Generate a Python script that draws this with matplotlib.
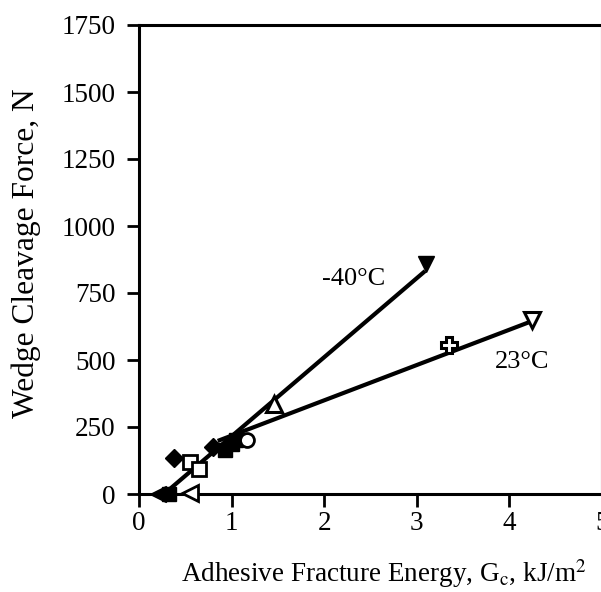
import matplotlib
matplotlib.use("Agg")
import matplotlib.pyplot as plt

plt.rcParams['font.family'] = ['Liberation Serif', 'DejaVu Serif']
plt.rcParams['mathtext.fontset'] = 'stix'

# measured points (Gc in kJ/m^2, wedge force in N), grouped by marker
filled_diamond_x = [0.38, 0.80]
filled_diamond_y = [135, 175]
filled_square_x = [0.32, 0.93, 1.00, 1.05]
filled_square_y = [0, 165, 185, 200]
filled_left_x = [0.20]
filled_left_y = [0]
open_left_x = [0.55]
open_left_y = [2]
open_square_x = [0.55, 0.65]
open_square_y = [120, 92]
open_circle_x = [1.17]
open_circle_y = [200]
open_up_x = [1.46]
open_up_y = [335]
filled_down_x = [3.10]
filled_down_y = [858]
open_down_x = [4.24]
open_down_y = [648]
plus_x = [3.35]
plus_y = [555]

# trend lines
line_m40_x = [0.27, 3.09]
line_m40_y = [0, 832]
line_23_x = [0.85, 4.22]
line_23_y = [198, 642]

x_ticks = [0, 1, 2, 3, 4, 5]
y_ticks = [0, 250, 500, 750, 1000, 1250, 1500, 1750]

fig = plt.figure(figsize=(6.01, 5.92), dpi=100)
ax = fig.add_axes([139 / 601, 1 - 494 / 592, 463 / 601, 469 / 592])

ax.plot(line_m40_x, line_m40_y, color='black', lw=3, solid_capstyle='butt', zorder=2)
ax.plot(line_23_x, line_23_y, color='black', lw=3, solid_capstyle='butt', zorder=2)

ms = 10
mk = dict(linestyle='none', color='black', markeredgecolor='black', zorder=3, clip_on=False)
ax.plot(filled_diamond_x, filled_diamond_y, marker='D', ms=ms - 1, **mk)
ax.plot(filled_square_x, filled_square_y, marker='s', ms=ms, **mk)
ax.plot(filled_left_x, filled_left_y, marker='<', ms=ms + 2, **mk)
ax.plot(filled_down_x, filled_down_y, marker='v', ms=ms + 2, **mk)
ax.plot(open_left_x, open_left_y, marker='<', ms=ms + 2, markerfacecolor='white', mew=2, **mk)
ax.plot(open_square_x, open_square_y, marker='s', ms=ms, markerfacecolor='white', mew=2, **mk)
ax.plot(open_circle_x, open_circle_y, marker='o', ms=ms, markerfacecolor='white', mew=2, **mk)
ax.plot(open_up_x, open_up_y, marker='^', ms=ms + 2, markerfacecolor='white', mew=2.2, **mk)
ax.plot(open_down_x, open_down_y, marker='v', ms=ms + 2, markerfacecolor='white', mew=2.2, **mk)
ax.plot(plus_x, plus_y, marker='P', ms=ms + 1, markerfacecolor='white', mew=2.2, **mk)

ax.text(2.32, 802, '-40°C', fontsize=19, ha='center', va='center')
ax.text(4.14, 493, '23°C', fontsize=19, ha='center', va='center')

ax.set_xlim(0, 5)
ax.set_ylim(0, 1750)
ax.set_xticks(x_ticks)
ax.set_yticks(y_ticks)
ax.tick_params(direction='out', length=9, width=2, labelsize=19.5)
ax.tick_params(axis='x', pad=3)
ax.tick_params(axis='y', pad=8)
for s in ax.spines.values():
    s.set_linewidth(2.2)

ax.set_xlabel('Adhesive Fracture Energy, G$_\\mathrm{c}$, kJ/m$^\\mathrm{2}$', fontsize=19.5)
ax.set_ylabel('Wedge Cleavage Force, N', fontsize=22.6)
ax.xaxis.set_label_coords(0.529, -0.134)
ax.yaxis.set_label_coords(-0.212, 0.514)

fig.savefig('out.png', dpi=100)
